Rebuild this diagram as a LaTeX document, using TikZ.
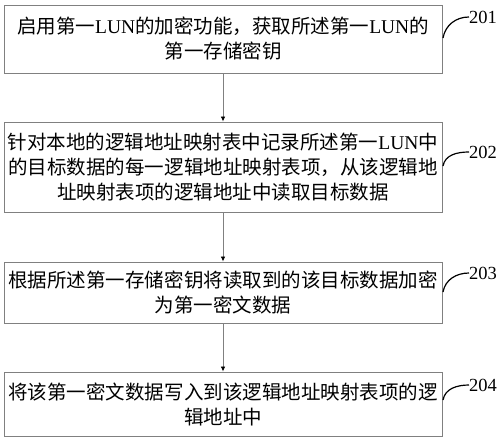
\documentclass[tikz,border=0pt]{standalone}
\usepackage{fontspec}
\setmainfont{Noto Sans CJK SC}
\newfontfamily\lat{Liberation Serif}
\usetikzlibrary{arrows.meta}

\begin{document}
\begin{tikzpicture}[x=1pt,y=-1pt,
  stepbox/.style={draw=black!50,line width=0.9pt,minimum width=438pt,align=center,inner xsep=0pt,font=\fontsize{19.5}{25}\selectfont},
  flow/.style={draw=black!50,line width=0.8pt,-{Latex[length=5pt,width=4.5pt,black]}},
  lead/.style={draw=black,line width=1.2pt},
  num/.style={font=\lat\fontsize{18.5}{18.5}\selectfont,inner sep=0pt,anchor=west}]
\useasboundingbox (0,0) rectangle (500,439);

\node[stepbox,minimum height=68pt] (s1) at (223,39) {启用第一{\lat LUN}的加密功能，获取所述第一{\lat LUN}的\\第一存储密钥};
\node[stepbox,minimum height=90pt] (s2) at (223,167) {针对本地的逻辑地址映射表中记录所述第一{\lat LUN}中\\的目标数据的每一逻辑地址映射表项，从该逻辑地\\址映射表项的逻辑地址中读取目标数据};
\node[stepbox,minimum height=61pt] (s3) at (223,292.5) {根据所述第一存储密钥将读取到的该目标数据加密\\为第一密文数据};
\node[stepbox,minimum height=64pt] (s4) at (223,404) {将该第一密文数据写入到该逻辑地址映射表项的逻\\辑地址中};

\draw[flow] (s1) -- (s2);
\draw[flow] (s2) -- (s3);
\draw[flow] (s3) -- (s4);

\node[num] (n1) at (469,17) {201};
\node[num] (n2) at (469,152) {202};
\node[num] (n3) at (469,273) {203};
\node[num] (n4) at (469,385) {204};
\coordinate (c1) at (443,38);
\coordinate (c2) at (443,166);
\coordinate (c3) at (443,292);
\coordinate (c4) at (443,400);
\draw[lead] (c1) to[out=80,in=180] (n1.west);
\draw[lead] (c2) to[out=80,in=180] (n2.west);
\draw[lead] (c3) to[out=80,in=180] (n3.west);
\draw[lead] (c4) to[out=80,in=180] (n4.west);
\end{tikzpicture}
\end{document}
